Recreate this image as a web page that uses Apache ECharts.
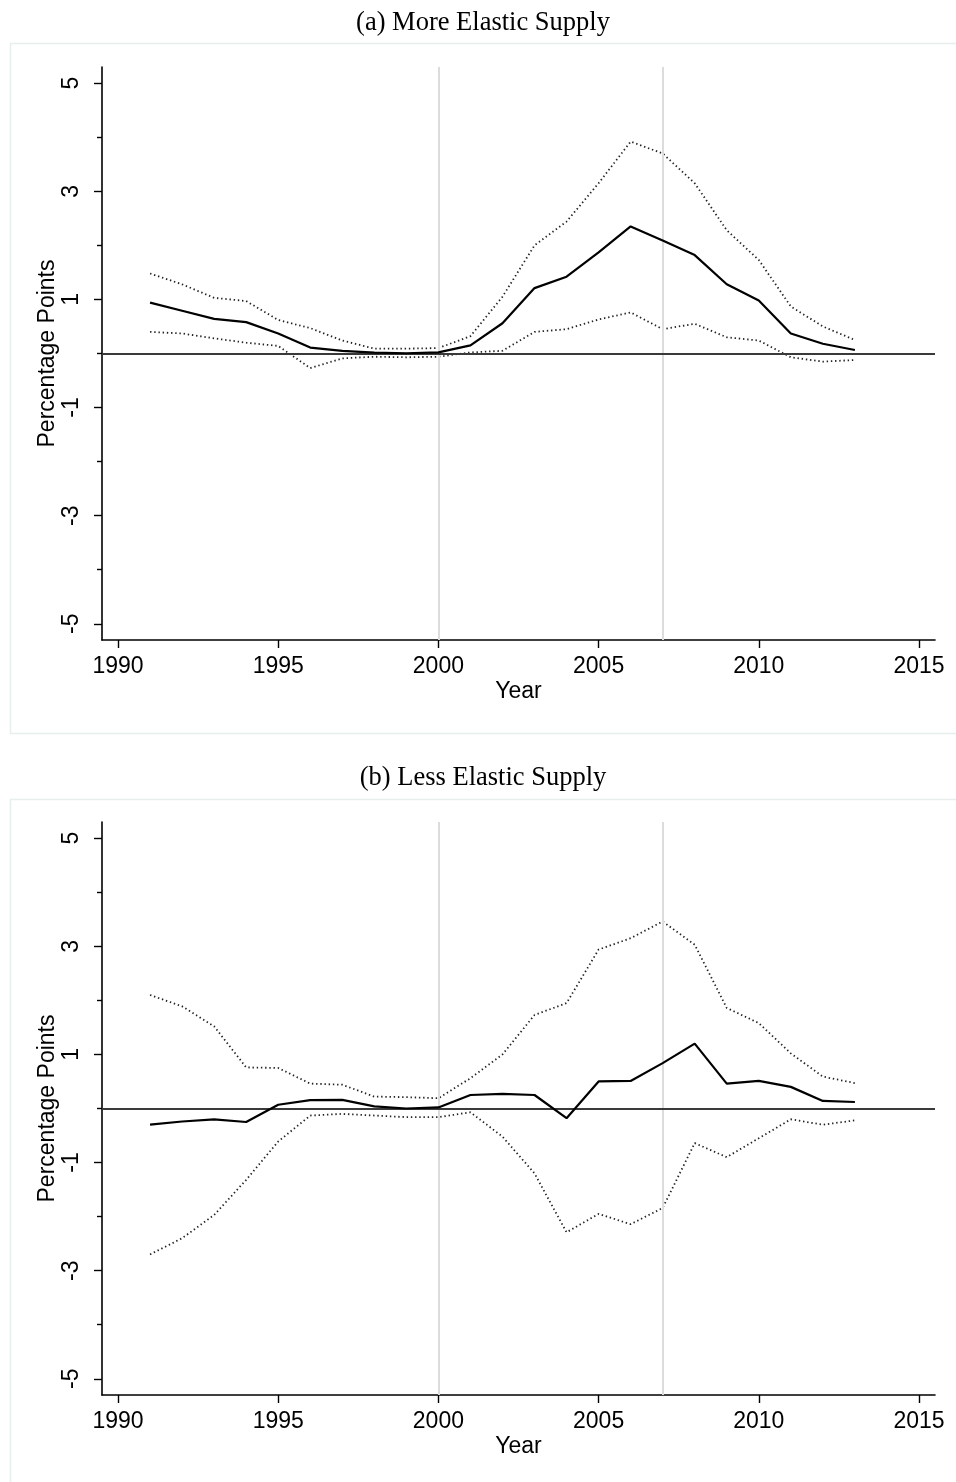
<!DOCTYPE html>
<html>
<head>
<meta charset="utf-8">
<script src="https://cdn.jsdelivr.net/npm/echarts@6/dist/echarts.min.js"></script>
<style>
html,body{margin:0;padding:0;background:#fff;}
#chart{width:956px;height:1482px;}
</style>
</head>
<body>
<div id="chart"></div>
<script>
// ---------- data ----------
const years = [1991,1992,1993,1994,1995,1996,1997,1998,1999,2000,2001,2002,2003,2004,2005,2006,2007,2008,2009,2010,2011,2012,2013];

// Panel (a) More Elastic Supply
const aMain  = [0.94,0.79,0.64,0.58,0.37,0.11,0.05,0.015,0.005,0.02,0.15,0.56,1.21,1.42,1.87,2.35,2.09,1.82,1.28,0.98,0.37,0.18,0.065];
const aUpper = [1.48,1.28,1.03,0.97,0.62,0.47,0.24,0.09,0.09,0.10,0.32,1.05,2.00,2.44,3.15,3.92,3.70,3.15,2.28,1.73,0.87,0.50,0.25];
const aLower = [0.40,0.37,0.28,0.20,0.14,-0.27,-0.09,-0.06,-0.07,-0.06,0.02,0.05,0.40,0.45,0.63,0.76,0.45,0.55,0.30,0.24,-0.07,-0.15,-0.12];

// Panel (b) Less Elastic Supply
const bMain  = [-0.30,-0.24,-0.20,-0.25,0.07,0.155,0.16,0.04,0.0,0.02,0.25,0.27,0.25,-0.18,0.50,0.51,0.84,1.20,0.46,0.51,0.40,0.14,0.12];
const bUpper = [2.10,1.89,1.52,0.76,0.75,0.46,0.44,0.22,0.21,0.19,0.56,1.00,1.73,1.95,2.94,3.15,3.46,3.03,1.86,1.58,1.02,0.59,0.47];
const bLower = [-2.70,-2.40,-1.97,-1.32,-0.61,-0.13,-0.10,-0.13,-0.16,-0.16,-0.07,-0.52,-1.20,-2.29,-1.95,-2.14,-1.84,-0.64,-0.90,-0.55,-0.20,-0.30,-0.22];

const xTicks = [1990,1995,2000,2005,2010,2015];
const yTicks = [-5,-3,-1,1,3,5];
const yMinorTicks = [-4,-2,0,2,4];
const refYears = [2000,2007];
const zeroLine = 0;
const titles = ['(a) More Elastic Supply','(b) Less Elastic Supply'];

// ---------- layout / style ----------
const gridTops = [67, 822];
const titleTops = [5, 760];
const borderTops = [43.5, 799.5];
const sans = 'Liberation Sans';
const serif = 'Liberation Serif';

function pairs(vals){ return years.map((y,i)=>[y, vals[i]]); }

const grids = [], xAxes = [], yAxes = [], series = [], titleArr = [], graphics = [];
const panels = [[aMain,aUpper,aLower],[bMain,bUpper,bLower]];

panels.forEach((p, k) => {
  grids.push({left:102, top:gridTops[k], width:833, height:573, containLabel:false});
  titleArr.push({
    text: titles[k], left: 478, top: titleTops[k], textAlign:'center',
    textStyle:{fontFamily:serif, fontSize:26.5, fontWeight:'normal', color:'#000'}
  });
  graphics.push({
    type:'rect', silent:true, z:-10,
    shape:{x:10.5, y:borderTops[k], width:960, height:690},
    style:{fill:'none', stroke:'#e7eeee', lineWidth:1.5}
  });
  xAxes.push({
    type:'value', gridIndex:k, min:1989.5, max:2015.5,
    name:'Year', nameLocation:'middle', nameGap:40, nameMoveOverlap:false,
    nameTextStyle:{fontFamily:sans, fontSize:23, color:'#000'},
    axisLine:{show:true, onZero:false, lineStyle:{color:'#000', width:1.6}},
    axisTick:{show:true, customValues:xTicks, length:8, lineStyle:{color:'#000', width:1.4}},
    axisLabel:{show:true, customValues:xTicks, margin:15, fontFamily:sans, fontSize:23, color:'#000',
      formatter:v=>String(v)},
    splitLine:{show:false}
  });
  yAxes.push({
    type:'value', gridIndex:k, min:-5.3, max:5.3, position:'left',
    name:'Percentage Points', nameLocation:'middle', nameGap:43, nameRotate:90, nameMoveOverlap:false,
    nameTextStyle:{fontFamily:sans, fontSize:23, color:'#000'},
    axisLine:{show:true, onZero:false, lineStyle:{color:'#000', width:1.6}},
    axisTick:{show:true, customValues:yTicks, length:8, lineStyle:{color:'#000', width:1.4}},
    axisLabel:{show:true, customValues:yTicks, rotate:90, margin:19, fontFamily:sans, fontSize:23, color:'#000',
      formatter:v=>String(v)},
    splitLine:{show:false}
  });
  // minor ticks
  yAxes.push({
    type:'value', gridIndex:k, min:-5.3, max:5.3, position:'left',
    axisLine:{show:false},
    axisTick:{show:true, customValues:yMinorTicks, length:5, lineStyle:{color:'#000', width:1.4}},
    axisLabel:{show:false},
    splitLine:{show:false}
  });
  const yi = k*2;
  const [m,u,l] = p;
  series.push({
    type:'line', xAxisIndex:k, yAxisIndex:yi, data:pairs(m), symbol:'none', z:5,
    lineStyle:{color:'#000', width:2.2},
    markLine:{
      silent:true, symbol:'none', label:{show:false}, animation:false,
      data:[
        ...refYears.map(yr=>({xAxis:yr, lineStyle:{color:'#dcdcdc', width:2, type:'solid'}})),
        {yAxis:zeroLine, lineStyle:{color:'#3a3a3a', width:1.8, type:'solid'}}
      ]
    }
  });
  [u,l].forEach(v=>{
    series.push({
      type:'line', xAxisIndex:k, yAxisIndex:yi, data:pairs(v), symbol:'none', z:4,
      lineStyle:{color:'#222', width:1.8, type:[1.4,2.8]}
    });
  });
});

const chart = echarts.init(document.getElementById('chart'), null, {renderer:'canvas'});
chart.setOption({
  animation:false,
  backgroundColor:'#fff',
  title: titleArr,
  grid: grids,
  xAxis: xAxes,
  yAxis: yAxes,
  series: series,
  graphic: graphics
});
</script>
</body>
</html>
